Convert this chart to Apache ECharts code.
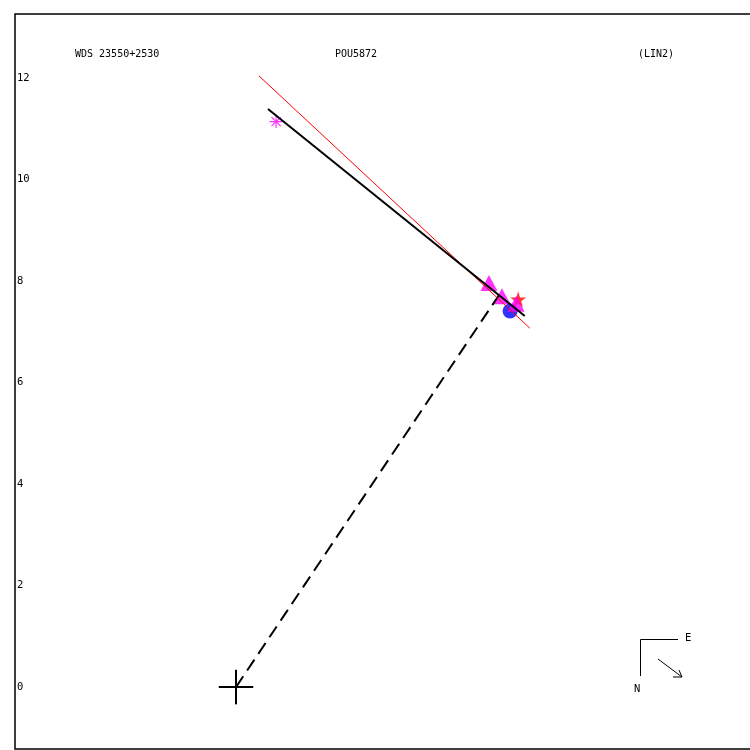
<!DOCTYPE html>
<html><head><meta charset="utf-8">
<script src="https://cdn.jsdelivr.net/npm/echarts@6/dist/echarts.min.js"></script>
<style>html,body{margin:0;padding:0;background:#fff}#c{width:750px;height:750px}</style>
</head><body><div id="c"></div>
<script>
// Labels
var titleWds = 'WDS 23550+2530';
var titleDisc = 'POU5872';
var titleOrbit = '(LIN2)';
var yTickValues = [0, 2, 4, 6, 8, 10, 12];

// Primary (origin) and radius vector to the predicted position
var originPoint = [0, 0];
var radiusEnd = [5.18, 7.72];
// Orbit arc (red) and fitted linear path (black)
var orbitLine = [[0.453, 12.04], [5.79, 7.07]];
var linearFit = [[0.63, 11.39], [5.69, 7.31]];
// Measurements
var asteriskObs = [[0.79, 11.14]];
var triangleObs = [[4.985, 7.96], [5.24, 7.70], [5.52, 7.55]];
var starObs = [[5.56, 7.64]];
var circleObs = [[5.40, 7.41]];
var crossArm = 0.34;

var mono = 'DejaVu Sans Mono';
var chart = echarts.init(document.getElementById('c'));
var starPath = 'path://M50,0 L61,35 L98,35 L68,57 L79,91 L50,70 L21,91 L32,57 L2,35 L39,35 Z';
var asteriskPath = 'path://M0,50 L100,50 M50,0 L50,100 M15,15 L85,85 M85,15 L15,85';

function seg(data, color, width, type) {
  return {type: 'line', data: data, symbol: 'none', silent: true, animation: false,
    lineStyle: {color: color, width: width, type: type || 'solid'}};
}
var tStyle = {fontFamily: mono, fontSize: 10, fontWeight: 'normal', color: '#000'};

chart.setOption({
  animation: false,
  backgroundColor: '#fff',
  title: [
    {text: titleWds, left: 75, top: 49, padding: 0, textStyle: tStyle},
    {text: titleDisc, left: 335, top: 49, padding: 0, textStyle: tStyle},
    {text: titleOrbit, left: 638, top: 49, padding: 0, textStyle: tStyle}
  ],
  grid: {left: 15, top: 14, width: 745, height: 735, show: true, borderColor: '#000', borderWidth: 1.5,
    backgroundColor: '#fff', outerBoundsMode: 'none', containLabel: false},
  xAxis: {type: 'value', min: -4.355, max: 10.325, show: false},
  yAxis: {type: 'value', min: -1.22, max: 13.26,
    axisLine: {show: false}, axisTick: {show: false}, splitLine: {show: false},
    axisLabel: {inside: true, margin: 2, customValues: yTickValues, fontFamily: mono, fontSize: 10.5, color: '#000'}},
  series: [
    seg([[originPoint[0] - crossArm, originPoint[1]], [originPoint[0] + crossArm, originPoint[1]]], '#000', 2),
    seg([[originPoint[0], originPoint[1] - crossArm], [originPoint[0], originPoint[1] + crossArm]], '#000', 2),
    seg([originPoint, radiusEnd], '#000', 2, [13, 7]),
    seg(orbitLine, '#ff0000', 1),
    seg(linearFit, '#000', 2),
    {type: 'scatter', data: asteriskObs, symbol: asteriskPath, symbolSize: 13,
      itemStyle: {color: 'rgba(0,0,0,0)', borderColor: '#ff00ff', borderWidth: 1.2}},
    {type: 'scatter', data: circleObs, symbol: 'circle', symbolSize: 15, itemStyle: {color: '#0000ff'}},
    {type: 'scatter', data: starObs, symbol: starPath, symbolSize: 16, itemStyle: {color: '#ff0000'}},
    {type: 'scatter', data: triangleObs, symbol: 'triangle', symbolSize: [17, 16], itemStyle: {color: '#ff00ff'}}
  ],
  graphic: [
    {type: 'polyline', shape: {points: [[678, 639.5], [640.5, 639.5], [640.5, 676]]}, style: {stroke: '#000', lineWidth: 1, fill: null}},
    {type: 'text', left: 685, top: 633, style: {text: 'E', font: '10.5px ' + mono, fill: '#000'}},
    {type: 'text', left: 634, top: 684, style: {text: 'N', font: '10.5px ' + mono, fill: '#000'}},
    {type: 'line', shape: {x1: 658, y1: 659, x2: 682, y2: 677}, style: {stroke: '#000', lineWidth: 1}},
    {type: 'polyline', shape: {points: [[679, 670], [682, 677], [673, 677]]}, style: {stroke: '#000', lineWidth: 1, fill: null}}
  ]
});
</script></body></html>
